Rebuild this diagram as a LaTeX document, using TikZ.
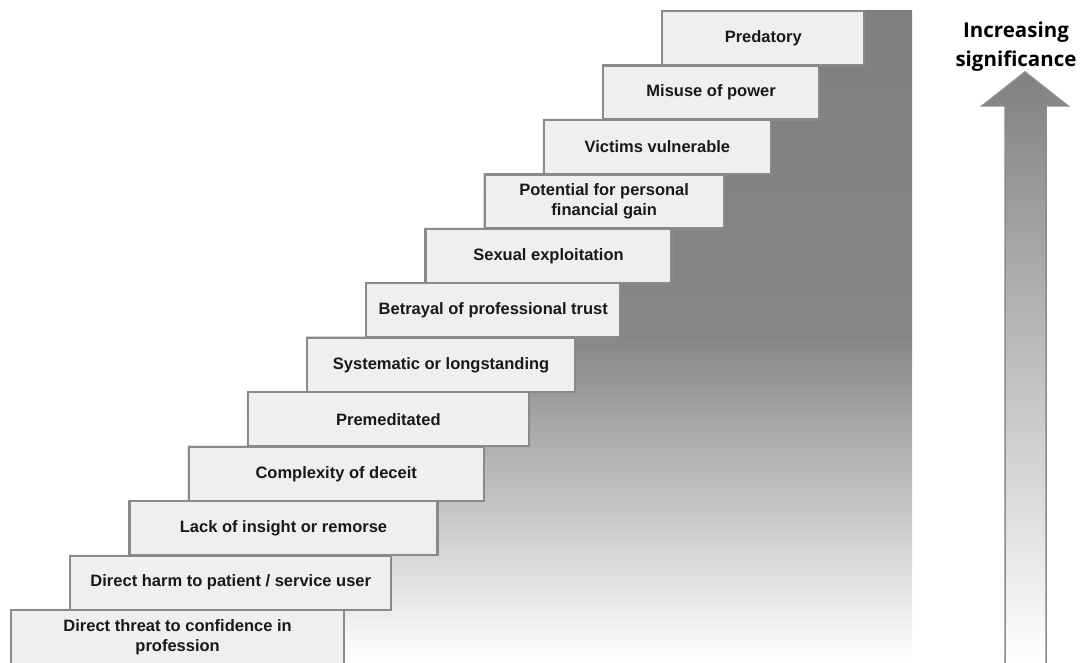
\documentclass[tikz,border=0pt]{standalone}
\usepackage{fontspec}
\setmainfont{Liberation Sans}
\newfontfamily\headfont{Open Sans}
\usetikzlibrary{backgrounds}

\definecolor{stepfill}{HTML}{EFEFEF}
\definecolor{stepline}{HTML}{8A8A8A}
\definecolor{darkgrey}{HTML}{808080}

\begin{document}
\begin{tikzpicture}[x=1pt, y=1pt,
  stepbox/.style={draw=stepline, line width=2.2pt, fill=stepfill,
    rectangle, anchor=north west, minimum height=54pt, inner sep=2pt,
    align=center, font=\fontsize{16.5}{20.5}\selectfont\bfseries,
    text=black!90},
  ramp/.style={top color=darkgrey, bottom color=white, middle color=darkgrey!95!white}]

\clip (0,0) rectangle (1086,662);

% Steps, lowest first
\foreach \i/\w/\txt in {
    1/333/{Direct threat to confidence in\\profession},
    2/321/{Direct harm to patient / service user},
    3/308/{Lack of insight or remorse},
    4/295/{Complexity of deceit},
    5/281/{Premeditated},
    6/268/{Systematic or longstanding},
    7/254/{Betrayal of professional trust},
    8/246/{Sexual exploitation},
    9/239/{Potential for personal\\financial gain},
    10/227/{Victims vulnerable},
    11/216/{Misuse of power},
    12/202/{Predatory}}
  \node[stepbox, minimum width=\w pt] (s\i)
    at ({10+59.2*(\i-1)}, {53+54.45*(\i-1)}) {\txt};

% Shaded staircase behind the steps
\coordinate (stairbase) at (912,0);
\begin{pgfonlayer}{background}
  \shade[ramp] foreach \i in {1,...,12} {(s\i.north west) rectangle (stairbase)};
\end{pgfonlayer}

% Significance arrow
\shade[top color=darkgrey, bottom color=white, draw=stepline, line width=1.5pt]
  (1005,-2) -- (1005,556) -- (982,556) -- (1025,590)
  -- (1068,556) -- (1046,556) -- (1046,-2) -- cycle;
\node[font=\headfont\fontsize{20.5}{29}\selectfont\bfseries, align=center]
  (sig) at (1016,615) {Increasing\\significance};

\end{tikzpicture}
\end{document}
